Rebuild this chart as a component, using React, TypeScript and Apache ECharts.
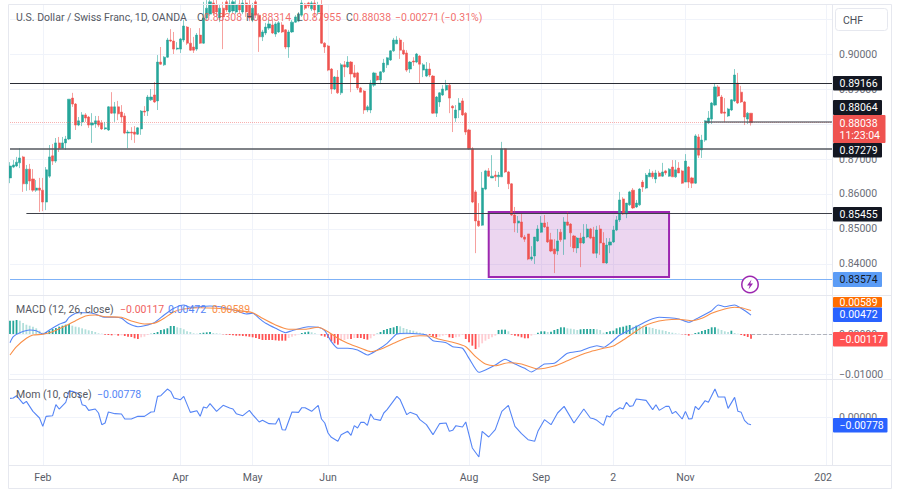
import React, { useEffect, useRef } from "react";
import * as echarts from "echarts";

// Calendar labels along the shared time axis
const monthLabels = ["Feb", "Apr", "May", "Jun", "Aug", "Sep", "2", "Nov", "202"];
const monthLabelSlots = [10, 52, 74, 97, 140, 162, 184, 206, 248];
const monthGridSlots = [10, 52, 74, 97, 140, 162, 184, 206, 249];
const slotCount = 252;

// Price ticks (all get a grid line, the labelled ones are not hidden by a tag)
const priceTicks = [0.84, 0.85, 0.86, 0.87, 0.88, 0.89, 0.9, 0.91];
const priceLabels = [0.84, 0.85, 0.86, 0.87, 0.89, 0.9];
const macdTicks = [-0.01, 0];
const momTicks = [0];

// Levels drawn on the price panel
const levelHigh = 0.89166;
const levelMid = 0.88064;
const levelLast = 0.88038;
const levelLow = 0.87279;
const levelSupport = 0.85455;
const levelBottom = 0.83574;
const boxTop = 0.85486;
const boxBottom = 0.83629;

// Daily candles: open, close, low, high
const candles = [
[.8646,.8680,.8631,.8691],[.8677,.8683,.8674,.8697],[.8680,.8691,.8677,.8706],[.8689,.8703,.8674,.8731],[.8706,.8629,.8606,.8709],
[.8629,.8671,.8609,.8683],[.8671,.8637,.8611,.8686],[.8643,.8611,.8606,.8671],[.8611,.8617,.8606,.8640],[.8617,.8611,.8549,.8646],
[.8611,.8577,.8551,.8646],[.8577,.8669,.8554,.8677],[.8651,.8706,.8646,.8740],[.8709,.8694,.8683,.8743],[.8694,.8746,.8689,.8760],
[.8746,.8731,.8720,.8763],[.8731,.8746,.8731,.8763],[.8746,.8757,.8726,.8766],[.8757,.8871,.8754,.8871],[.8874,.8857,.8849,.8889],
[.8857,.8797,.8783,.8860],[.8797,.8809,.8794,.8820],[.8806,.8826,.8794,.8834],[.8826,.8817,.8806,.8831],[.8820,.8797,.8789,.8823],
[.8797,.8803,.8746,.8831],[.8800,.8809,.8789,.8823],[.8809,.8797,.8791,.8823],[.8803,.8786,.8783,.8811],[.8786,.8789,.8783,.8806],
[.8783,.8849,.8780,.8851],[.8849,.8831,.8829,.8891],[.8831,.8849,.8806,.8863],[.8849,.8829,.8811,.8866],[.8834,.8820,.8803,.8854],
[.8823,.8774,.8771,.8831],[.8774,.8777,.8731,.8783],[.8777,.8774,.8754,.8791],[.8777,.8771,.8746,.8794],[.8771,.8789,.8769,.8791],
[.8786,.8837,.8769,.8840],[.8837,.8834,.8823,.8851],[.8837,.8877,.8823,.8883],[.8869,.8877,.8866,.8900],[.8883,.8863,.8860,.8920],
[.8866,.8977,.8840,.8997],[.8977,.8971,.8969,.9020],[.8969,.8991,.8966,.8994],[.8991,.9040,.8989,.9046],[.9040,.9037,.9034,.9071],
[.9037,.9014,.9000,.9063],[.9014,.9017,.9011,.9034],[.9014,.9043,.9003,.9046],[.9040,.9080,.9034,.9097],[.9077,.9031,.9026,.9080],
[.9031,.9011,.9009,.9074],[.9020,.9011,.9003,.9049],[.9014,.9054,.9009,.9060],[.9054,.9031,.9029,.9074],[.9031,.9103,.9029,.9149],
[.9103,.9131,.9097,.9154],[.9114,.9149,.9109,.9163],[.9146,.9117,.9111,.9154],[.9140,.9120,.9109,.9154],[.9103,.9131,.9091,.9143],
[.9131,.9106,.9014,.9149],[.9149,.9126,.9120,.9163],[.9120,.9143,.9114,.9154],[.9123,.9149,.9117,.9163],[.9120,.9140,.9114,.9154],
[.9143,.9126,.9117,.9154],[.9120,.9146,.9114,.9160],[.9146,.9120,.9106,.9157],[.9140,.9103,.9094,.9154],[.9097,.9131,.9091,.9146],
[.9149,.9111,.9103,.9163],[.9111,.9049,.9006,.9117],[.9049,.9063,.9037,.9069],[.9060,.9077,.9054,.9089],[.9074,.9086,.9069,.9097],
[.9083,.9060,.9057,.9097],[.9057,.9086,.9049,.9091],[.9063,.9089,.9060,.9094],[.9083,.9063,.9060,.9091],[.9069,.9020,.9014,.9071],
[.9020,.9063,.8989,.9069],[.9063,.9091,.9060,.9097],[.9091,.9106,.9089,.9111],[.9094,.9114,.9091,.9120],[.9111,.9146,.9106,.9154],
[.9143,.9131,.9126,.9146],[.9146,.9137,.9131,.9149],[.9129,.9146,.9123,.9151],[.9146,.9126,.9103,.9154],[.9120,.9140,.9111,.9149],
[.9140,.9031,.9029,.9154],[.9031,.9020,.9003,.9034],[.9023,.8954,.8951,.9026],[.8957,.8900,.8886,.8960],[.8900,.8934,.8897,.8937],
[.8934,.8889,.8886,.8954],[.8889,.8969,.8883,.8974],[.8969,.8963,.8934,.8980],[.8963,.8977,.8960,.8994],[.8977,.8943,.8891,.8980],
[.8946,.8934,.8931,.8969],[.8946,.8903,.8897,.8949],[.8903,.8891,.8891,.8906],[.8894,.8840,.8829,.8897],[.8840,.8849,.8834,.8854],
[.8840,.8917,.8831,.8926],[.8911,.8946,.8906,.8949],[.8937,.8926,.8923,.8946],[.8926,.8949,.8914,.8951],[.8949,.8974,.8946,.8986],
[.8969,.8989,.8960,.8991],[.8983,.9009,.8980,.9011],[.9009,.9040,.9006,.9046],[.9029,.9040,.9029,.9051],[.9040,.9011,.8986,.9046],
[.9011,.9000,.8997,.9034],[.9003,.8954,.8949,.9011],[.8957,.8977,.8946,.8980],[.8980,.8977,.8966,.8991],[.8977,.9000,.8974,.9003],
[.8994,.8971,.8917,.8997],[.8954,.8969,.8934,.8974],[.8937,.8957,.8934,.8977],[.8957,.8940,.8934,.8974],[.8937,.8831,.8829,.8940],
[.8831,.8877,.8820,.8880],[.8863,.8889,.8849,.8891],[.8883,.8900,.8880,.8911],[.8897,.8911,.8894,.8926],[.8911,.8874,.8831,.8917],
[.8851,.8846,.8777,.8854],[.8817,.8840,.8806,.8854],[.8840,.8860,.8817,.8874],[.8866,.8826,.8823,.8874],[.8831,.8777,.8769,.8834],
[.8783,.8729,.8726,.8786],[.8729,.8577,.8574,.8734],[.8606,.8523,.8431,.8611],[.8523,.8509,.8506,.8574],[.8511,.8617,.8509,.8663],
[.8614,.8666,.8611,.8669],[.8666,.8651,.8649,.8674],[.8646,.8651,.8646,.8711],[.8654,.8649,.8637,.8666],[.8649,.8654,.8620,.8663],
[.8649,.8729,.8649,.8749],[.8729,.8663,.8660,.8731],[.8663,.8629,.8614,.8666],[.8629,.8540,.8537,.8631],[.8540,.8517,.8491,.8563],
[.8517,.8523,.8489,.8537],[.8520,.8477,.8474,.8543],[.8477,.8471,.8463,.8483],[.8486,.8414,.8411,.8486],[.8414,.8420,.8409,.8451],
[.8423,.8477,.8400,.8477],[.8466,.8500,.8463,.8511],[.8491,.8517,.8489,.8537],[.8517,.8506,.8503,.8540],[.8506,.8463,.8460,.8520],
[.8469,.8437,.8434,.8489],[.8443,.8429,.8374,.8471],[.8437,.8466,.8426,.8500],[.8491,.8469,.8463,.8500],[.8471,.8520,.8426,.8534],
[.8520,.8511,.8509,.8549],[.8514,.8489,.8449,.8517],[.8480,.8446,.8434,.8483],[.8446,.8474,.8431,.8477],[.8474,.8460,.8391,.8489],
[.8460,.8477,.8457,.8514],[.8477,.8500,.8474,.8514],[.8500,.8474,.8471,.8503],[.8477,.8431,.8429,.8506],[.8431,.8497,.8417,.8509],
[.8500,.8460,.8426,.8511],[.8460,.8403,.8403,.8491],[.8403,.8454,.8400,.8474],[.8454,.8463,.8431,.8474],[.8463,.8497,.8460,.8509],
[.8497,.8526,.8494,.8537],[.8526,.8583,.8520,.8606],[.8586,.8543,.8540,.8591],[.8543,.8574,.8531,.8574],[.8569,.8606,.8566,.8609],
[.8611,.8560,.8557,.8617],[.8563,.8574,.8560,.8583],[.8569,.8614,.8566,.8617],[.8634,.8620,.8606,.8640],[.8617,.8654,.8614,.8660],
[.8649,.8660,.8649,.8671],[.8660,.8649,.8643,.8666],[.8643,.8660,.8631,.8669],[.8660,.8651,.8649,.8666],[.8651,.8663,.8649,.8689],
[.8666,.8660,.8654,.8669],[.8651,.8671,.8649,.8674],[.8677,.8649,.8649,.8697],[.8649,.8669,.8646,.8697],[.8674,.8660,.8660,.8691],
[.8666,.8631,.8629,.8669],[.8634,.8694,.8634,.8714],[.8677,.8634,.8617,.8680],[.8646,.8631,.8617,.8649],[.8631,.8766,.8629,.8771],
[.8763,.8711,.8703,.8771],[.8726,.8754,.8703,.8769],[.8754,.8809,.8749,.8811],[.8803,.8817,.8800,.8837],[.8814,.8860,.8800,.8863],
[.8854,.8906,.8851,.8917],[.8906,.8880,.8877,.8911],[.8877,.8831,.8829,.8883],[.8834,.8831,.8806,.8874],[.8823,.8843,.8820,.8846],
[.8840,.8869,.8837,.8871],[.8866,.8940,.8863,.8957],[.8917,.8860,.8857,.8946],[.8891,.8863,.8860,.8909],[.8863,.8820,.8797,.8866],
[.8814,.8831,.8800,.8834],[.88308,.88038,.87955,.88314],
];

// MACD histogram, one value per candle
const macdHist = [
.00333,.00333,.0035,.00333,.00275,.00233,.00208,.00183,.00142,.00083,.00033,.0005,.00083,.00125,.0015,.00183,.00208,.00233,.0025,.00208,
.00183,.00167,.00142,.00117,.00092,.00075,.0005,.00017,.00008,-.00017,-.00025,-.00033,-.00017,-.00042,-.00033,-.0005,-.00067,-.00075,-.00108,-.00125,
-.00083,-.00067,-.00025,.00008,.00025,.0005,.001,.00117,.00142,.002,.002,.00167,.0015,.00117,.00067,.0005,.00017,.00008,.00017,.00033,
.00042,.0005,.00025,.00017,.00008,-.00008,-.00017,-.00025,-.00033,-.00042,-.00042,-.0005,-.00058,-.00067,-.00083,-.001,-.00125,-.0015,-.0015,-.0015,
-.0015,-.00158,-.00167,-.00167,-.00167,-.001,-.00067,-.00042,-.00008,.00025,.00042,.00058,.00042,.00017,0,-.00042,-.00067,-.001,-.00183,-.00233,
-.00267,-.00167,-.0015,-.00125,-.00125,-.001,-.001,-.001,-.00125,-.00142,-.00108,-.0005,.00008,.0005,.001,.00125,.0015,.00167,.002,.00192,
.0015,.00125,.001,.00083,.00058,.00033,.00017,-.00008,-.00025,-.00067,-.00083,-.00067,-.00042,-.00025,-.00083,-.001,-.00083,-.00067,-.00025,-.00125,
-.00208,-.00292,-.00375,-.00333,-.00233,-.00167,-.00125,-.00083,-.00042,.001,.00108,.00108,.00067,-.00017,-.00042,-.00058,-.00083,-.00108,-.00108,-.00042,
-.00008,.00033,.00067,.00067,.0005,.00058,.001,.00125,.00167,.00167,.00142,.00133,.00117,.001,.00117,.00125,.00125,.00125,.00125,.00117,
.001,.00033,.0005,.00067,.00083,.00142,.00167,.00183,.00208,.00225,.00183,.00208,.002,.00183,.00183,.00167,.0015,.00125,.00108,.00092,
.00075,.0005,.00033,.00017,.00008,-.00008,-.00017,-.00042,-.00017,.00025,.00042,.00075,.001,.00125,.00167,.00167,.00133,.001,.00067,.0005,
.00083,.00025,.00008,-.00025,-.0005,-.00075,-.00117,
];

// MACD line, read at these candle slots
const macdSlots = [0,1,3,6,8,10,12,15,17,18,20,21,24,26,29,32,34,36,39,41,44,47,50,53,55,58,61,64,66,69,72,74,76,78,81,84,86,91,94,96,98,100,103,106,109,112,115,118,121,125,127,129,133,135,138,140,143,145,148,151,154,157,159,161,163,166,170,174,177,179,181,183,186,189,192,195,198,201,204,207,210,214,216,218,221,223,226];
const macdLine = [-.00217,-.00067,.00033,.001,.00083,0,.001,.00242,.00308,.00417,.00517,.00533,.00533,.005,.00417,.00417,.00392,.00267,.00183,.00208,.00283,.00475,.00642,.00725,.00667,.00683,.007,.00683,.00642,.00583,.005,.00517,.00392,.00267,.00142,.00033,.00083,.00183,.00167,.00083,-.00192,-.00358,-.00358,-.004,-.00525,-.004,-.00233,0,.00017,0,-.00025,-.00167,-.00217,-.00317,-.00358,-.00608,-.00958,-.009,-.00775,-.00633,-.0075,-.00858,-.0095,-.00858,-.0075,-.00733,-.00483,-.00425,-.00333,-.00292,-.00333,-.00233,-.00025,.001,.00225,.0035,.00417,.00408,.00375,.00292,.00408,.00583,.00725,.00683,.00725,.00642,.00472];

// Signal line, read at these candle slots
const signalSlots = [0,2,5,7,10,13,16,20,23,26,29,34,37,41,44,47,50,53,58,63,68,74,77,81,85,90,94,97,100,103,107,110,113,117,121,125,128,131,135,139,142,145,148,152,156,161,166,170,174,177,181,184,187,190,193,196,200,204,208,211,214,218,221,223,226];
const signalLine = [-.00525,-.00317,-.00108,-.00025,-.00008,.00058,.00167,.00333,.0045,.00475,.00433,.00417,.00325,.0025,.00267,.00392,.00558,.00625,.00658,.00642,.006,.00533,.00392,.00225,.00117,.00117,.00167,.00058,-.00108,-.00233,-.00358,-.00442,-.00383,-.00233,-.00092,-.00042,-.0005,-.00133,-.00208,-.00317,-.00567,-.0075,-.00792,-.00717,-.0075,-.00875,-.008,-.00667,-.00525,-.00442,-.00358,-.003,-.0015,.00017,.00183,.00283,.0035,.00367,.00333,.00392,.00517,.00625,.00667,.00658,.00589];

// Momentum line, read at these candle slots
const momSlots = [0,1,2,4,5,7,9,10,11,13,14,15,17,18,19,21,22,23,24,26,27,28,29,30,32,34,35,37,39,41,43,44,45,46,48,49,50,52,53,55,57,58,59,60,61,63,65,67,68,69,71,73,74,76,77,79,81,82,83,84,86,88,89,90,92,94,95,96,97,98,100,101,102,103,104,105,106,107,108,109,110,111,113,114,115,118,119,121,122,124,125,127,129,131,133,134,135,136,138,139,141,143,144,146,148,150,152,154,156,158,160,161,163,165,167,169,172,175,177,178,179,181,182,183,184,186,187,188,189,190,191,194,196,197,198,200,201,202,203,205,206,207,208,209,210,212,213,215,216,218,219,221,222,223,224,225,226];
const momLine = [.01886,.01919,.02155,.01347,.01582,.00572,-.00101,-.00943,.00067,.00135,.01246,.00808,.01481,.02593,.02593,.02357,.01246,.01145,.00673,.00808,.00404,-.00774,-.00606,.00505,.00337,.00303,-.00202,-.00202,.00067,.00067,.00505,.00539,.02088,.02155,.02828,.02593,.01919,.01751,.02088,.00471,.0064,.00067,.0101,.00909,.01347,.00572,.01178,.00909,.00808,.00337,.00135,.00673,.00236,-.00505,-.00337,-.00673,-.00707,-.00101,-.0128,-.01313,.00505,.00471,.00943,.00943,.00572,.01178,-.00202,-.00606,-.01616,-.02054,-.02458,-.01785,-.01616,-.01448,-.01852,-.00875,-.01111,-.00539,-.00539,-.00842,.00303,-.00202,-.00337,.00404,.00741,.02088,.01751,.00236,.00471,.00236,-.00269,-.00774,-.01785,-.00673,-.00606,-.01448,-.01347,-.00875,-.0101,-.00505,-.03131,-.0404,-.01448,-.0202,-.0128,.00572,.01178,-.00943,-.01684,-.0229,-.02458,-.01448,-.00269,-.00774,.00404,.01077,-.00606,.00808,-.00101,-.00168,-.00337,-.00842,.00135,0,.00505,.00943,.00808,.01481,.01077,.01145,.01818,.01684,.00741,.01246,.00673,.01077,.01077,.00337,.00572,-.00202,.00572,-.00202,-.00168,.01077,.00741,.0165,.01481,.02828,.0202,.0202,.00875,.01987,.00572,.00471,-.00337,-.00673,-.00778];

const UP = "#26a69a";
const DOWN = "#ef5350";
const BLUE = "#5585f6";
const ORANGE = "#f98f48";
const FONT = "Roboto, sans-serif";
const GRID = "#f0f3fa";
const FRAME = "#e6e8ef";

const categories = Array.from({ length: slotCount }, (_, i) => {
  const k = monthLabelSlots.indexOf(i);
  return k >= 0 ? monthLabels[k] : "";
});
const zip = (a: number[], b: number[]) => a.map((x, i) => [x, b[i]]);
const fixed = (v: number) => (v < 0 ? "\u2212" : "") + Math.abs(v).toFixed(5);

function buildOption() {
  const xAxis = (gridIndex: number, showLabel: boolean) => ({
    type: "category",
    gridIndex,
    data: categories,
    boundaryGap: false,
    axisLine: { show: false },
    axisTick: { show: false },
    axisLabel: {
      show: showLabel,
      interval: (_: number, v: string) => v !== "",
      color: "#5a5d68",
      fontSize: 10.5,
      fontFamily: FONT,
      margin: 7,
      hideOverlap: false,
    },
    splitLine: {
      show: true,
      interval: (i: number) => monthGridSlots.includes(i),
      lineStyle: { color: GRID, width: 1 },
    },
  });
  const yAxis = (gridIndex: number, min: number, max: number, ticks: number[], labels: number[]) => ({
    type: "value",
    gridIndex,
    position: "right",
    min,
    max,
    axisLine: { show: false },
    axisTick: { show: false, customValues: ticks },
    axisLabel: {
      customValues: labels,
      formatter: fixed,
      color: "#6a6d78",
      fontSize: 10.5,
      fontFamily: FONT,
      margin: 6,
      showMinLabel: true,
      showMaxLabel: true,
    },
    splitLine: { show: true, lineStyle: { color: GRID, width: 1 } },
  });
  const level = (v: number, from: number, color: string, width: number, type = "solid") => [
    { coord: [from, v], lineStyle: { color, width, type } },
    { coord: [slotCount - 1, v], lineStyle: { color, width, type } },
  ];

  const texts: any[] = [];
  const label = (x: number, y: number, text: string, fill: string, size = 10.5) =>
    texts.push({
      type: "text",
      x,
      y,
      style: { text, fill, font: `${size}px ${FONT}`, verticalAlign: "middle", align: "left" },
    });
  const tag = (y: number, h: number, w: number, fill: string, text: string, tc = "#fff") => {
    texts.push({ type: "rect", shape: { x: 833, y, width: w, height: h, r: 1 }, style: { fill } });
    label(839.5, y + h / 2, text, tc);
  };

  const gray = "#565963";
  const red = "rgba(239,83,80,0.85)";
  label(16, 17, "U.S. Dollar / Swiss Franc, 1D, OANDA", gray);
  label(197, 17, "O", gray); label(204, 17, "0.88308", red);
  label(246, 17, "H", gray); label(253, 17, "0.88314", red);
  label(297, 17, "L", gray); label(303, 17, "0.87955", red);
  label(346, 17, "C", gray); label(353, 17, "0.88038", red);
  label(395, 17, "\u22120.00271", red); label(441, 17, "(\u22120.31%)", red);
  label(16, 309, "MACD (12, 26, close)", gray);
  label(120, 309, "\u22120.00117", "#f0625f");
  label(168, 309, "0.00472", BLUE);
  label(212, 309, "0.00589", ORANGE);
  label(16, 394, "Mom (10, close)", gray);
  label(97, 394, "\u22120.00778", BLUE);

  tag(76, 14.5, 49, "#131722", "0.89166");
  tag(100, 15, 49, "#131722", "0.88064");
  tag(143, 14.5, 49, "#131722", "0.87279");
  tag(207, 14.5, 49, "#131722", "0.85455");
  tag(272, 15, 49, "#5b9cf6", "0.83574", "#131722");
  texts.push({ type: "rect", shape: { x: 833, y: 115, width: 52.5, height: 28, r: 1 }, style: { fill: "#ef5350" } });
  label(839.5, 123, "0.88038", "#fff");
  label(839.5, 135, "11:23:04", "#fff");
  tag(297, 10.5, 49, "#ff6d00", "0.00589");
  tag(307.5, 14.5, 49, "#2962ff", "0.00472");
  tag(332, 14.5, 54.5, "#ff5252", "\u22120.00117");
  tag(418, 14.5, 54.5, "#2962ff", "\u22120.00778");

  texts.push({ type: "rect", shape: { x: 835.5, y: 8.5, width: 52, height: 22, r: 3 }, style: { fill: "#fff", stroke: "#e6e8ef", lineWidth: 1 } });
  label(843, 20, "CHF", "#4a4d57", 10.5);

  texts.push({ type: "circle", shape: { cx: 750, cy: 284.5, r: 8.2 }, style: { fill: "#fff", stroke: "#9c27b0", lineWidth: 1.5 } });
  texts.push({
    type: "polygon",
    shape: { points: [[751.5, 279.5], [747, 285.5], [749.7, 285.5], [748.5, 289.5], [753, 283.5], [750.3, 283.5]] },
    style: { fill: "#9c27b0" },
  });

  const frame = (x1: number, y1: number, x2: number, y2: number) =>
    texts.push({ type: "line", shape: { x1, y1, x2, y2 }, style: { stroke: FRAME, lineWidth: 1 } });
  frame(8.5, 4.5, 891.5, 4.5);
  frame(8.5, 4.5, 8.5, 488.5);
  frame(891.5, 4.5, 891.5, 488.5);
  frame(8.5, 488.5, 891.5, 488.5);
  frame(832.5, 4.5, 832.5, 465.5);
  frame(8.5, 295.5, 891.5, 295.5);
  frame(8.5, 379.5, 891.5, 379.5);
  frame(8.5, 465.5, 891.5, 465.5);

  return {
    animation: false,
    backgroundColor: "#ffffff",
    grid: [
      { left: 10, width: 823, top: 4, height: 291 },
      { left: 10, width: 823, top: 296, height: 84 },
      { left: 10, width: 823, top: 380, height: 85 },
    ],
    xAxis: [xAxis(0, false), xAxis(1, false), xAxis(2, true)],
    yAxis: [
      yAxis(0, 0.83114, 0.91429, priceTicks, priceLabels),
      yAxis(1, -0.0115, 0.0095, macdTicks, macdTicks),
      yAxis(2, -0.0485, 0.0374, momTicks, momTicks),
    ],
    graphic: { elements: texts.map((t) => ({ ...t, z: 100 })) },
    series: [
      {
        type: "candlestick",
        xAxisIndex: 0,
        yAxisIndex: 0,
        data: candles,
        barWidth: 2.6,
        itemStyle: {
          color: UP,
          color0: DOWN,
          borderColor: "rgba(38,166,154,0.55)",
          borderColor0: "rgba(239,83,80,0.55)",
          borderColorDoji: "rgba(38,166,154,0.55)",
          borderWidth: 1,
        },
        markLine: {
          silent: true,
          symbol: "none",
          label: { show: false },
          animation: false,
          data: [
            level(levelLast, 0, "rgba(239,83,80,0.45)", 1, "dotted"),
            level(levelHigh, 0, "#2a2d35", 1),
            level(levelMid, 212, "rgba(80,83,92,0.8)", 1.5),
            level(levelLow, 0, "#55585f", 1.5),
            level(levelSupport, 5, "#3d4048", 1.2),
            level(levelBottom, 0, "#7fb2f7", 1),
          ],
        },
        markArea: {
          silent: true,
          animation: false,
          label: { show: false },
          itemStyle: { color: "rgba(156,39,176,0.19)", borderColor: "#9c27b0", borderWidth: 2 },
          data: [[{ coord: [146, boxTop] }, { coord: [201, boxBottom] }]],
        },
      },
      {
        type: "bar",
        xAxisIndex: 1,
        yAxisIndex: 1,
        data: macdHist,
        barWidth: 1.8,
        itemStyle: {
          color: (p: any) => {
            const v = macdHist[p.dataIndex];
            const prev = p.dataIndex > 0 ? macdHist[p.dataIndex - 1] : v;
            if (v >= 0) return v >= prev ? UP : "#b2dfdb";
            return v <= prev ? "#ff5252" : "#ffcdd2";
          },
        },
        markLine: {
          silent: true,
          symbol: "none",
          label: { show: false },
          animation: false,
          data: [[
            { coord: [226, 0], lineStyle: { color: "#b0b3bb", width: 1, type: "dashed" } },
            { coord: [slotCount - 1, 0] },
          ]],
        },
      },
      {
        type: "line",
        xAxisIndex: 1,
        yAxisIndex: 1,
        data: zip(macdSlots, macdLine),
        showSymbol: false,
        smooth: 0.2,
        lineStyle: { color: BLUE, width: 1.1 },
      },
      {
        type: "line",
        xAxisIndex: 1,
        yAxisIndex: 1,
        data: zip(signalSlots, signalLine),
        showSymbol: false,
        smooth: 0.2,
        lineStyle: { color: ORANGE, width: 1.1 },
      },
      {
        type: "line",
        xAxisIndex: 2,
        yAxisIndex: 2,
        data: zip(momSlots, momLine),
        showSymbol: false,
        lineStyle: { color: BLUE, width: 1.1 },
      },
    ],
  };
}

export default function App() {
  const ref = useRef<HTMLDivElement>(null);
  useEffect(() => {
    if (!ref.current) return;
    const chart = echarts.init(ref.current, undefined, { renderer: "svg" });
    chart.setOption(buildOption() as any);
    return () => chart.dispose();
  }, []);
  return <div ref={ref} style={{ position: "fixed", left: 0, top: 0, width: 900, height: 500 }} />;
}
